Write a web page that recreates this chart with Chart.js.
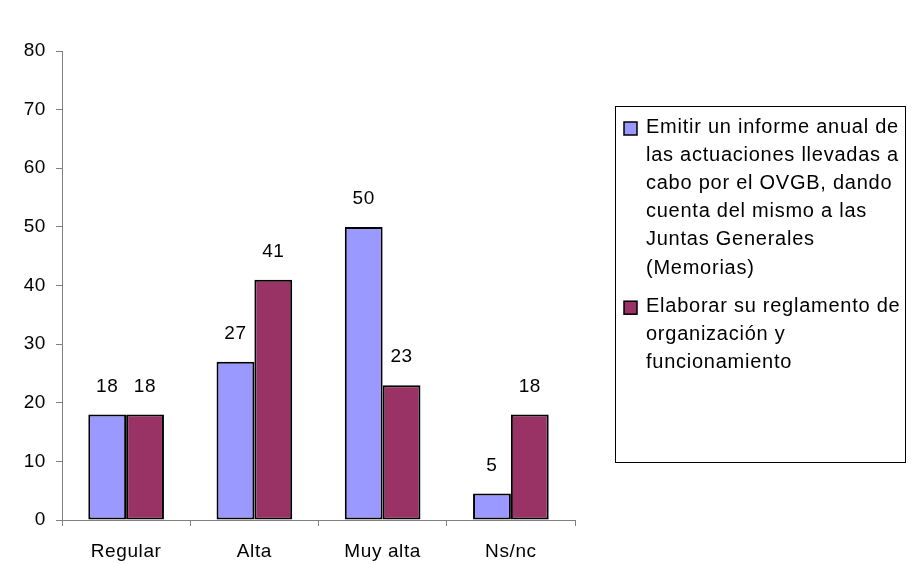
<!DOCTYPE html>
<html lang="es">
<head>
    <meta charset="UTF-8">
    <title>Valoración</title>
    <script src="https://cdn.jsdelivr.net/npm/chart.js"></script>
    <style>
        body { margin: 0; padding: 0; background: #fff; }
        #wrap { width: 917px; height: 564px; position: relative; }
    </style>
</head>
<body>
    <div id="wrap"><canvas id="chart" width="917" height="564"></canvas></div>
    <script>
        // data
        const categories = ['Regular', 'Alta', 'Muy alta', 'Ns/nc'];
        const informeValues = [18, 27, 50, 4.5];
        const reglamentoValues = [18, 41, 23, 18];
        const informeLabel = ['Emitir un informe anual de', 'las actuaciones llevadas a', 'cabo por el OVGB, dando', 'cuenta del mismo a las', 'Juntas Generales', '(Memorias)'];
        const reglamentoLabel = ['Elaborar su reglamento de', 'organización y', 'funcionamiento'];
        const yTicks = [0, 10, 20, 30, 40, 50, 60, 70, 80];

        const FONT = '"Liberation Sans", Arial, sans-serif';

        // the old Excel text is drawn a bit wider
        const spacing = {
            id: 'spacing',
            beforeDraw(chart) { chart.ctx.letterSpacing = '0.6px'; }
        };

        // value labels above each bar
        const valueLabels = {
            id: 'valueLabels',
            afterDatasetsDraw(chart) {
                const ctx = chart.ctx;
                ctx.save();
                ctx.letterSpacing = '0.6px';
                ctx.font = '19px ' + FONT;
                ctx.fillStyle = '#000';
                ctx.textAlign = 'center';
                ctx.textBaseline = 'middle';
                chart.data.datasets.forEach((ds, i) => {
                    chart.getDatasetMeta(i).data.forEach((bar, j) => {
                        ctx.fillText(Math.round(ds.data[j]), bar.x, bar.y - 28);
                    });
                });
                ctx.restore();
            }
        };

        // boxed legend on the right with wrapped lines
        const boxLegend = {
            id: 'boxLegend',
            afterDraw(chart) {
                const ctx = chart.ctx;
                ctx.save();
                ctx.letterSpacing = '0.75px';
                ctx.strokeStyle = '#000';
                ctx.lineWidth = 1;
                ctx.strokeRect(615.5, 106.5, 290, 356);
                ctx.font = '20px ' + FONT;
                ctx.textBaseline = 'middle';
                ctx.textAlign = 'left';
                let y = 127;
                chart.data.datasets.forEach((ds) => {
                    ctx.fillStyle = ds.backgroundColor;
                    ctx.fillRect(624, y - 5, 13, 13);
                    ctx.lineWidth = 1.5;
                    ctx.strokeStyle = '#000';
                    ctx.strokeRect(624, y - 5, 13, 13);
                    ctx.fillStyle = '#000';
                    ds.label.forEach((line) => {
                        ctx.fillText(line, 646, y);
                        y += 28.2;
                    });
                    y += 10;
                });
                ctx.restore();
            }
        };

        new Chart(document.getElementById('chart'), {
            type: 'bar',
            data: {
                labels: categories,
                datasets: [{
                    label: informeLabel,
                    data: informeValues,
                    backgroundColor: '#9999FF',
                    borderColor: '#000',
                    borderWidth: 2,
                    borderSkipped: false
                }, {
                    label: reglamentoLabel,
                    data: reglamentoValues,
                    backgroundColor: '#993366',
                    borderColor: '#000',
                    borderWidth: 2,
                    borderSkipped: false
                }]
            },
            options: {
                responsive: false,
                animation: false,
                layout: { padding: { top: 51, right: 342, bottom: 0, left: 0 } },
                datasets: { bar: { categoryPercentage: 0.59, barPercentage: 1 } },
                plugins: { legend: { display: false }, tooltip: { enabled: false } },
                scales: {
                    x: {
                        afterFit(scale) { scale.height = 44; },
                        grid: { drawOnChartArea: false, tickLength: 6, color: '#808080' },
                        border: { color: '#808080', width: 1 },
                        ticks: { color: '#000', font: { family: FONT, size: 19 }, padding: 14 }
                    },
                    y: {
                        min: 0,
                        max: 80,
                        afterFit(scale) { scale.width = 62; },
                        afterBuildTicks(scale) { scale.ticks = yTicks.map(v => ({ value: v })); },
                        grid: { drawOnChartArea: false, tickLength: 6, color: '#808080' },
                        border: { color: '#808080', width: 1 },
                        ticks: { color: '#000', font: { family: FONT, size: 19 }, padding: 10 }
                    }
                }
            },
            plugins: [spacing, valueLabels, boxLegend]
        });
    </script>
</body>
</html>
